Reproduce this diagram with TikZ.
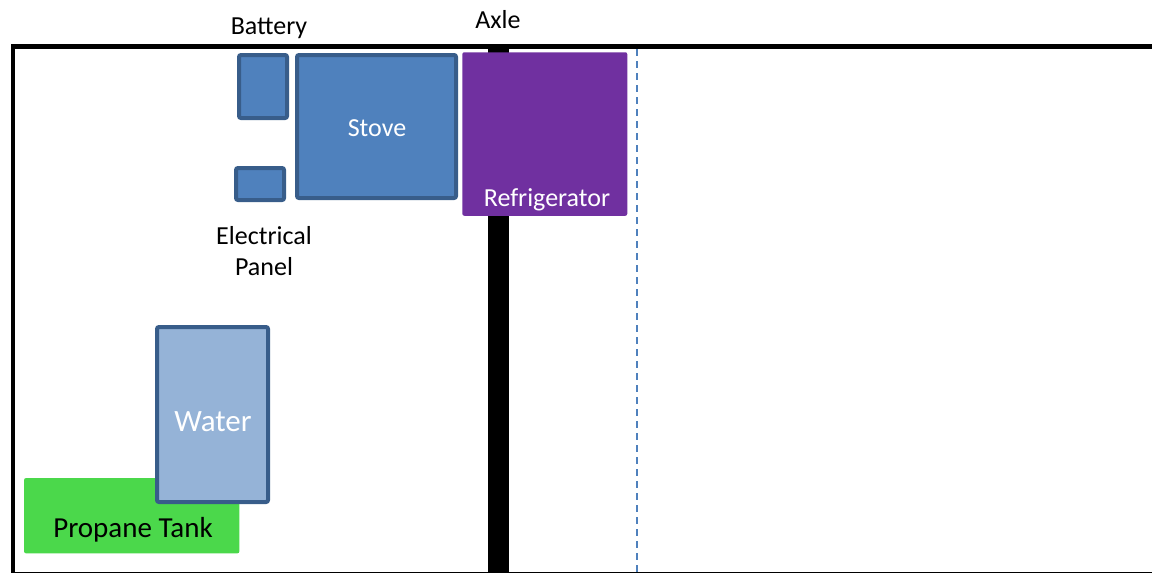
\documentclass[tikz,border=0pt]{standalone}
\usepackage{fontspec}
\setmainfont{Carlito}
\definecolor{boxblue}{HTML}{4F81BD}
\definecolor{boxedge}{HTML}{385D8A}
\definecolor{waterfill}{HTML}{95B3D7}
\definecolor{fridge}{HTML}{7030A0}
\definecolor{propane}{HTML}{4BD84B}
\tikzset{
  unit/.style={draw=boxedge, fill=boxblue, line width=4pt, rounded corners=2pt, inner sep=0pt},
  lbl/.style={inner sep=0pt, font=\fontsize{26}{31}\selectfont, align=center},
}
\begin{document}
\begin{tikzpicture}[x=1pt,y=-1pt]
\useasboundingbox (0,0) rectangle (1152,573);
% trailer frame
\draw[line width=4.5pt] (1152,46.5) -- (13,46.5) -- (13,573);
\draw[line width=1.5pt] (11,572.3) -- (1152,572.3);
% axle
\fill (488.3,48) rectangle (509.3,573);
% centre line
\draw[boxblue, line width=2pt, dash pattern=on 7pt off 5pt] (636.7,49) -- (636.7,573);
% units
\node[unit, minimum width=48pt, minimum height=63pt] (battery) at (263,86.5) {};
\node[unit, minimum width=159pt, minimum height=143pt] (stove) at (376.5,126.5) {};
\node[lbl, text=white] (stovelbl) at (377,128.5) {Stove};
\node[unit, minimum width=48pt, minimum height=32pt] (panel) at (260,184) {};
\node[fill=fridge, rounded corners=2pt, minimum width=165pt, minimum height=163.5pt, inner sep=0pt] (fridge) at (544.8,134) {};
\node[lbl, text=white] (fridgelbl) at (547,199.5) {Refrigerator};
\node[fill=propane, rounded corners=2pt, minimum width=215.3pt, minimum height=75.3pt, inner sep=0pt] (tank) at (131.7,515.7) {};
\node[lbl, font=\fontsize{29}{34}\selectfont] (tanklbl) at (133,529.5) {Propane Tank};
\node[unit, fill=waterfill, minimum width=111pt, minimum height=175pt] (water) at (212.5,414.5) {};
\node[lbl, text=white, font=\fontsize{31}{36}\selectfont] (waterlbl) at (213,422) {Water};
% labels
\node[lbl] (batterylbl) at (269,28.5) {Battery};
\node[lbl] (axlelbl) at (498,19.5) {Axle};
\node[lbl] (panellbl) at (264,251.5) {Electrical\\Panel};
\end{tikzpicture}
\end{document}
